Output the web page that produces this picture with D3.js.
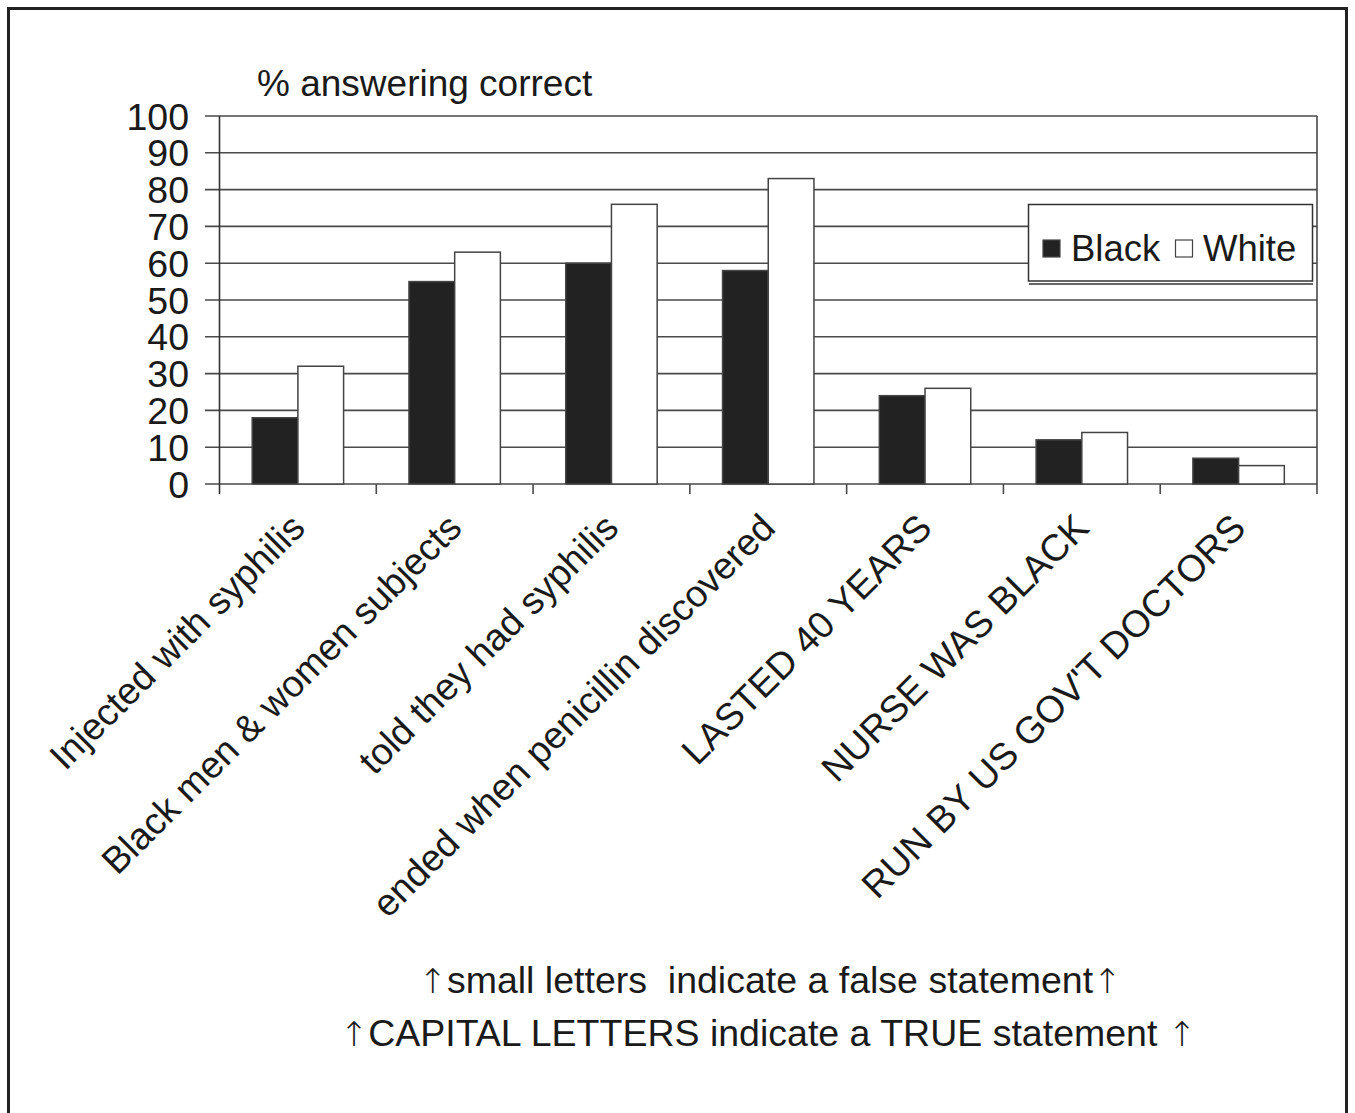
<!DOCTYPE html>
<html><head><meta charset="utf-8">
<script src="https://cdn.jsdelivr.net/npm/d3@7"></script>
<style>body{margin:0;background:#fff}svg{display:block}text{font-family:"Liberation Sans",Arial,sans-serif;fill:#1a1a1a;white-space:pre}</style>
</head><body>
<script>
const categories = ["Injected with syphilis","Black men & women subjects","told they had syphilis","ended when penicillin discovered","LASTED 40 YEARS","NURSE WAS BLACK","RUN BY US GOV'T DOCTORS"];
const seriesNames = ["Black","White"];
const blackValues = [18,55,60,58,24,12,7];
const whiteValues = [32,63,76,83,26,14,5];
const yTicks = [0,10,20,30,40,50,60,70,80,90,100];
const yTitle = "% answering correct";
const notes = ["\u2191small letters  indicate a false statement\u2191","\u2191CAPITAL LETTERS indicate a TRUE statement \u2191"];

const W=1355,H=1113;
const svg=d3.select("body").append("svg").attr("width",W).attr("height",H);
svg.append("rect").attr("x",8.5).attr("y",8.5).attr("width",1338).attr("height",1120).attr("fill","#fff").attr("stroke","#222").attr("stroke-width",3);

const L=219.5,R=1317,T=116,B=484;
const x=d3.scaleBand().domain(categories).range([L,R]).paddingInner(0.417).paddingOuter(0.2085);
const xs=d3.scaleBand().domain(seriesNames).range([0,x.bandwidth()]);
const y=d3.scaleLinear().domain([0,100]).range([B,T]);
const gridCol="#4a4a4a";

svg.append("g").selectAll("line").data(yTicks).join("line")
  .attr("x1",205).attr("x2",R).attr("y1",d=>y(d)).attr("y2",d=>y(d))
  .attr("stroke",gridCol).attr("stroke-width",1.6);
svg.append("line").attr("x1",R).attr("x2",R).attr("y1",T).attr("y2",B+10).attr("stroke",gridCol).attr("stroke-width",1.6);
svg.append("line").attr("x1",L).attr("x2",L).attr("y1",T).attr("y2",B+10).attr("stroke","#333").attr("stroke-width",1.6);
svg.append("g").selectAll("line").data(d3.range(1,categories.length)).join("line")
  .attr("x1",i=>L+i*(R-L)/categories.length).attr("x2",i=>L+i*(R-L)/categories.length)
  .attr("y1",B).attr("y2",B+10).attr("stroke",gridCol).attr("stroke-width",1.6);

svg.append("g").selectAll("text").data(yTicks).join("text")
  .attr("x",189).attr("y",d=>y(d)).attr("dy","0.36em").attr("text-anchor","end")
  .attr("font-size",37.5).text(d=>d);
svg.append("text").attr("x",257).attr("y",96).attr("font-size",37).text(yTitle);

const rows=categories.map((c,i)=>({c,vals:[{s:"Black",v:blackValues[i]},{s:"White",v:whiteValues[i]}]}));
const g=svg.append("g").selectAll("g").data(rows).join("g").attr("transform",d=>`translate(${x(d.c)},0)`);
g.selectAll("rect").data(d=>d.vals).join("rect")
  .attr("x",d=>xs(d.s)).attr("width",xs.bandwidth())
  .attr("y",d=>y(d.v)).attr("height",d=>B-y(d.v))
  .attr("fill",d=>d.s==="Black"?"#222":"#fff")
  .attr("stroke","#444").attr("stroke-width",1.5);

svg.append("g").selectAll("text").data(categories).join("text")
  .attr("transform",d=>`translate(${x(d)+x.bandwidth()/2+9},${530}) rotate(-45)`)
  .attr("text-anchor","end").attr("font-size",37.5).text(d=>d);

const lg=svg.append("g");
lg.append("line").attr("x1",1029).attr("x2",1313).attr("y1",284).attr("y2",284).attr("stroke","#333").attr("stroke-width",1.5);
lg.append("rect").attr("x",1028.5).attr("y",204.5).attr("width",284).attr("height",76.5).attr("fill","#fff").attr("stroke","#333").attr("stroke-width",1.5);
const items=[{s:"Black",x:1043,tx:1071},{s:"White",x:1175.5,tx:1203}];
lg.selectAll("rect.sw").data(items).join("rect").attr("class","sw")
  .attr("x",d=>d.x).attr("y",240).attr("width",17).attr("height",17)
  .attr("fill",d=>d.s==="Black"?"#222":"#fff").attr("stroke","#444").attr("stroke-width",1.2);
lg.selectAll("text").data(items).join("text").attr("x",d=>d.tx).attr("y",261).attr("font-size",36.5).text(d=>d.s);

svg.append("g").selectAll("text").data(notes).join("text")
  .attr("x",(d,i)=>i===0?770:768).attr("y",(d,i)=>993+i*53).attr("text-anchor","middle").attr("font-size",37.5)
  .each(function(d){
    const t=d3.select(this);
    d.split(/(\u2191)/).filter(s=>s.length).forEach(s=>{
      const sp=t.append("tspan").text(s);
      if(s==="\u2191") sp.attr("font-family","'DejaVu Sans'").attr("font-weight","200").attr("font-size",34);
    });
  });
</script>
</body></html>
